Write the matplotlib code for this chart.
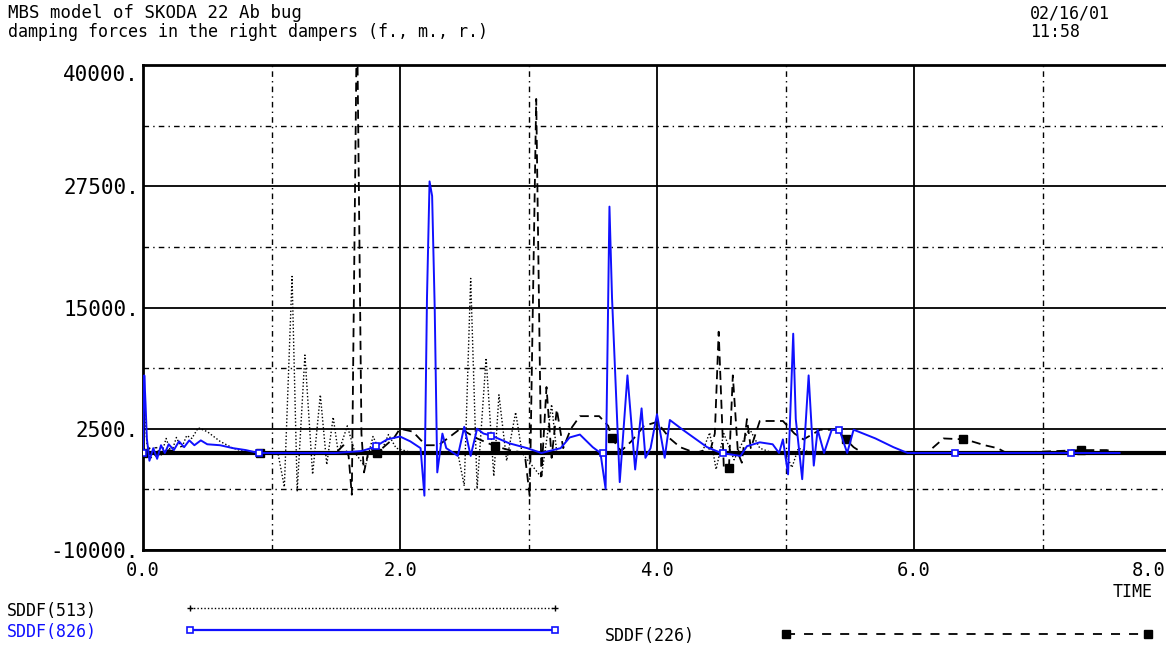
import matplotlib
matplotlib.use("Agg")
import matplotlib.pyplot as plt
from matplotlib.lines import Line2D
from matplotlib.transforms import ScaledTranslation

plt.rcParams['font.family'] = ['DejaVu Sans Mono']

# SDDF(513) - dotted black
t513 = [0.0, 0.01, 0.03, 0.06, 0.1, 0.14, 0.18, 0.22, 0.26, 0.3, 0.34, 0.38,
        0.43, 0.5, 0.6, 0.7, 0.8, 1.05, 1.1, 1.16, 1.2, 1.26, 1.32, 1.38,
        1.43, 1.48, 1.52, 1.59, 1.65, 1.73, 1.79, 1.85, 1.91, 1.97, 2.1,
        2.45, 2.5, 2.55, 2.6, 2.67, 2.73, 2.77, 2.83, 2.9, 2.95, 3.1, 3.18,
        3.22, 3.35, 4.35, 4.41, 4.46, 4.52, 4.6, 4.68, 4.72, 4.8, 4.9, 5.0,
        5.05, 5.1, 5.2, 7.6]
v513 = [0, 5000, 1000, -600, 700, -300, 1500, 0, 1600, 500, 1800, 1500,
        2600, 2200, 1200, 500, 100, 0, -3500, 18200, -3900, 10100, -2200, 6000,
        -1200, 3700, 0, 2800, 0, -1400, 1700, 0, 1900, 500, 0,
        0, -3400, 18000, -3700, 9800, -2400, 6000, -800, 4200, 0, -2500, 5000,
        0, 0, 0, 2100, -1700, 2000, -700, 1500, 2500, 500, 0, 0,
        -1500, 500, 0, 0]

# SDDF(826) - blue
t826 = [0.0, 0.01, 0.02, 0.03, 0.05, 0.08, 0.11, 0.14, 0.17, 0.2, 0.24, 0.28,
        0.32, 0.36, 0.4, 0.45, 0.5, 0.6, 0.7, 0.8, 0.9, 1.5, 1.7, 1.8, 1.9,
        2.0, 2.08, 2.16, 2.19, 2.21, 2.23, 2.25, 2.27, 2.29, 2.33, 2.36, 2.45,
        2.5, 2.55, 2.6, 2.65, 2.71, 2.85, 2.99, 3.1, 3.25, 3.32, 3.4, 3.5,
        3.56, 3.6, 3.63, 3.65, 3.71, 3.77, 3.83, 3.88, 3.91, 3.95, 4.0, 4.06,
        4.1, 4.2, 4.39, 4.5, 4.65, 4.7, 4.8, 4.9, 4.95, 4.98, 5.02, 5.06, 5.08,
        5.13, 5.18, 5.22, 5.25, 5.3, 5.36, 5.42, 5.48, 5.53, 5.7, 5.84, 5.95,
        7.6]
v826 = [0, 8000, 5000, 1500, -800, 500, -600, 800, 0, 900, 300, 1200,
        600, 1300, 800, 1300, 900, 800, 500, 300, 0, 0, 200, 600, 1400,
        1700, 1200, 500, -4400, 16000, 28000, 26500, 15000, -2000, 2000, 500, -300,
        2700, -300, 2500, 2000, 1800, 1000, 500, 0, 500, 1600, 1900, 600,
        0, -3700, 25400, 16000, -3000, 8000, -1700, 4600, -500, 500, 4000, -500,
        3400, 2400, 600, 0, -300, 700, 1100, 900, 0, 1400, -2200, 12300, 3500,
        -2700, 8000, -1300, 2400, 0, 2400, 2400, 0, 2400, 1500, 600, 0,
        0]
m826_t = [0.0, 0.9, 1.81, 2.71, 3.58, 4.51, 5.42, 6.32, 7.22]
m826_v = [0, 0, 700, 1800, 0, 0, 2400, 0, 0]

# SDDF(226) - dashed black
t226 = [0.0, 0.05, 0.1, 0.2, 0.3, 0.91, 1.5, 1.56, 1.6, 1.625, 1.665, 1.7,
        1.72, 1.76, 1.82, 1.95, 2.0, 2.1, 2.2, 2.3, 2.4, 2.47, 2.6, 2.74,
        2.85, 2.97, 3.01, 3.06, 3.1, 3.14, 3.18, 3.22, 3.27, 3.33, 3.4, 3.55,
        3.62, 3.65, 3.72, 3.8, 3.9, 4.0, 4.1, 4.18, 4.3, 4.42, 4.45, 4.48,
        4.52, 4.56, 4.59, 4.63, 4.66, 4.7, 4.73, 4.8, 4.98, 5.07, 5.14, 5.27,
        5.4, 5.47, 5.53, 5.6, 6.1, 6.23, 6.4, 6.55, 6.65, 6.72, 7.3, 7.5, 7.6]
v226 = [0, 500, -300, 300, 0, 0, 0, 800, -300, -4300, 46000, 2000,
        -2000, 500, 0, 1500, 2500, 2200, 800, 800, 1800, 2500, 1500, 700,
        300, 0, -4500, 36500, -2400, 6800, -500, 4500, 500, 2500, 3800, 3800,
        2800, 1500, 200, 1200, 2800, 3200, 1500, 600, 0, 500, 2000, 12500,
        -1500, -1500, 8000, 0, -1000, 3500, 500, 3300, 3300, 2000, 1400, 2400,
        2400, 1400, 600, 0, 0, 1500, 1400, 800, 500, 0, 300, 300, 0]
m226_t = [0.0, 0.91, 1.82, 2.74, 3.65, 4.56, 5.47, 6.38, 7.3]
m226_v = [0, 0, 0, 700, 1500, -1500, 1400, 1400, 300]

yticks = [-10000, 2500, 15000, 27500, 40000]
ylabels = ['-10000.', '2500.', '15000.', '27500.', '40000.']
xticks = [0, 2, 4, 6, 8]
xlabels = ['0.0', '2.0', '4.0', '6.0', '8.0']

BLUE = '#1010ff'
W, H = 1166, 648
fig = plt.figure(figsize=(W / 100, H / 100), dpi=100)
ax = fig.add_axes([143 / W, 1 - 550 / H, 1028 / W, 485 / H])

ax.set_xlim(0, 8)
ax.set_ylim(-10000, 40000)
ax.set_xticks(xticks, labels=xlabels)
ax.set_yticks(yticks, labels=ylabels)
ax.set_xticks([1, 3, 5, 7], minor=True)
ax.set_yticks([-3750, 8750, 21250, 33750], minor=True)
ax.tick_params(which='both', length=0)
ax.tick_params(axis='x', pad=8, labelsize=13.5)
ax.tick_params(axis='y', pad=3, labelsize=15)
ax.grid(which='major', color='black', lw=1.3)
ax.grid(which='minor', color='black', lw=1.0, ls=(0, (4, 3, 1, 3)))
ax.set_axisbelow(True)
for s in ax.spines.values():
    s.set_linewidth(2)

# top y label sits just under the frame, last x label pulled inside the figure
ax.get_yticklabels()[-1].set_va('top')
lbl = ax.get_xticklabels()[-1]
lbl.set_ha('right')
lbl.set_transform(lbl.get_transform() + ScaledTranslation(-4 / 72, 0, fig.dpi_scale_trans))

ax.axhline(0, color='black', lw=3, zorder=2)
ax.plot(t513, v513, color='black', lw=1.0, ls=(0, (1, 1.5)), zorder=3)
ax.plot(t226, v226, color='black', lw=1.3, ls=(0, (5, 3)), zorder=3)
ax.plot(m226_t, m226_v, ls='none', marker='s', ms=6, color='black', zorder=4)
ax.plot(t826, v826, color=BLUE, lw=1.4, zorder=5)
ax.plot(m826_t, m826_v, ls='none', marker='s', ms=5, mfc='white',
        mec=BLUE, mew=1.2, zorder=6)

# titles
fig.text(8 / W, 1 - 13 / H, 'MBS model of SKODA 22 Ab bug', fontsize=12.5,
         va='center', ha='left')
fig.text(8 / W, 1 - 32 / H, 'damping forces in the right dampers (f., m., r.)',
         fontsize=12, va='center', ha='left')
fig.text(1030 / W, 1 - 13 / H, '02/16/01', fontsize=12, va='center', ha='left')
fig.text(1030 / W, 1 - 32 / H, '11:58', fontsize=12, va='center', ha='left')
fig.text(1133 / W, 1 - 592 / H, 'TIME', fontsize=12, va='center', ha='center')

# legend drawn by hand
fig.text(7 / W, 1 - 611 / H, 'SDDF(513)', fontsize=12, va='center', ha='left')
fig.text(7 / W, 1 - 632 / H, 'SDDF(826)', fontsize=12, va='center', ha='left',
         color=BLUE)
fig.text(605 / W, 1 - 636 / H, 'SDDF(226)', fontsize=12, va='center', ha='left')
fig.add_artist(Line2D([190 / W, 555 / W], [1 - 608 / H, 1 - 608 / H],
                      color='black', lw=1.0, ls=(0, (1, 1.5)), marker='+',
                      ms=5, transform=fig.transFigure))
fig.add_artist(Line2D([190 / W, 555 / W], [1 - 630 / H, 1 - 630 / H],
                      color=BLUE, lw=1.6, marker='s', ms=5, mfc='white',
                      mew=1.2, transform=fig.transFigure))
fig.add_artist(Line2D([786 / W, 1148 / W], [1 - 634 / H, 1 - 634 / H],
                      color='black', lw=1.3, ls=(0, (5, 5)), marker='s', ms=6,
                      transform=fig.transFigure))

fig.savefig('out.png', dpi=100)
